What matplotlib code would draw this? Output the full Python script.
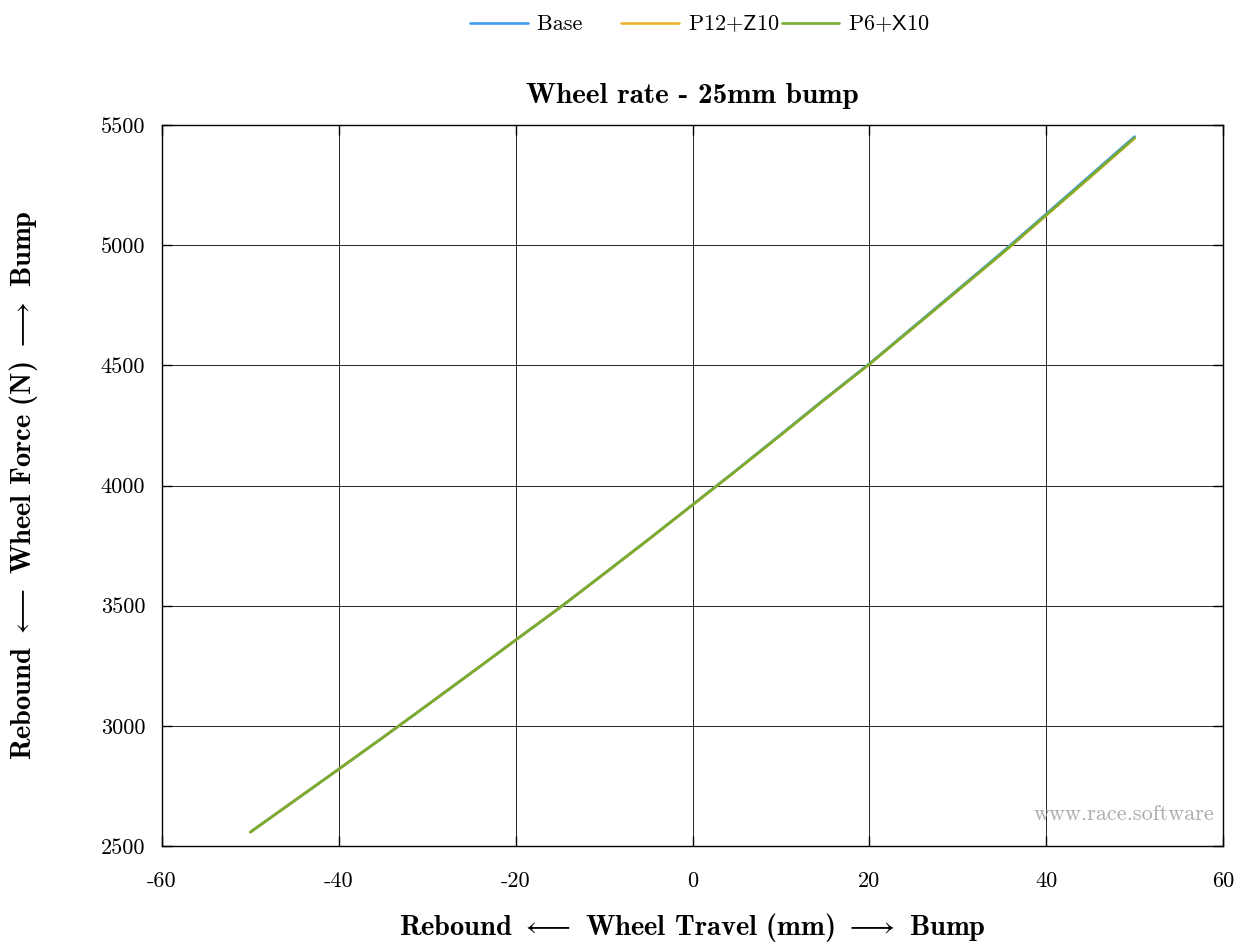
import matplotlib
matplotlib.use("Agg")
import matplotlib.pyplot as plt
from matplotlib.ticker import MultipleLocator

plt.rcParams['font.family'] = ['cmr10', 'DejaVu Sans']
plt.rcParams['mathtext.fontset'] = 'cm'
plt.rcParams['axes.unicode_minus'] = False

# Data
travel = [-50, -45, -40, -35, -30, -25, -20, -15, -10, -5, 0,
          5, 10, 15, 20, 25, 30, 35, 40, 45, 50]
base = [2558, 2689, 2820, 2952, 3086, 3221, 3357, 3492, 3633, 3775, 3920,
        4065, 4213, 4362, 4507, 4661, 4815, 4970, 5130, 5291, 5452]
p12_z10 = [2558, 2689, 2820, 2952, 3086, 3221, 3357, 3492, 3632, 3774, 3919,
           4063, 4210, 4359, 4504, 4657, 4810, 4964, 5123, 5283, 5444]
p6_x10 = [2558, 2689, 2820, 2952, 3086, 3221, 3357, 3492, 3633, 3775, 3919,
          4064, 4211, 4360, 4505, 4658, 4812, 4966, 5126, 5286, 5447]

series = [("Base", base, "#3f9cf5"),
          ("P12$\\mathsf{+Z}$10", p12_z10, "#f0b22e"),
          ("P6$\\mathsf{+X}$10", p6_x10, "#77ac30")]

W, H = 1240, 942
fig = plt.figure(figsize=(W/100, H/100), dpi=100)
ax = fig.add_axes([162/W, 1 - 846/H, (1223-162)/W, (846-125)/H])

handles = []
for label, vals, col in series:
    h, = ax.plot(travel, vals, color=col, lw=1.9, label=label, solid_capstyle='round')
    handles.append(h)

ax.set_xlim(-60, 60)
ax.set_ylim(2500, 5500)
ax.xaxis.set_major_locator(MultipleLocator(20))
ax.yaxis.set_major_locator(MultipleLocator(500))
ax.grid(True, color='black', lw=0.6)
ax.set_axisbelow(True)
ax.tick_params(axis='both', direction='in', length=7, width=1, top=True, right=True,
               labelsize=16)
ax.tick_params(axis='x', pad=18)
ax.tick_params(axis='y', pad=12)
for s in ax.spines.values():
    s.set_linewidth(1.0)

ax.set_title("Wheel rate - 25mm bump", family='cmb10', fontsize=21, pad=16)
fig.text(692/W, 1 - 927/H,
         r"Rebound $\longleftarrow$ Wheel Travel (mm) $\longrightarrow$ Bump",
         family='cmb10', fontsize=20.5, ha='center', va='center')
fig.text(24/W, 1 - 485/H,
         r"Rebound $\longleftarrow$ Wheel Force (N) $\longrightarrow$ Bump",
         family='cmb10', fontsize=20.5, ha='center', va='center', rotation=90)

ax.text(0.992, 0.03, "www.race.software", transform=ax.transAxes,
        ha='right', va='bottom', fontsize=16, color='#aaaaaa')

labels = ["Base     ", series[1][0], series[2][0]]
leg = fig.legend(handles, labels, loc='center', bbox_to_anchor=(700/W, 1 - 24/H),
                 ncol=3, frameon=False, fontsize=16, handlelength=2.6,
                 handletextpad=0.4, columnspacing=0.1)

fig.savefig("out.png", dpi=100)
